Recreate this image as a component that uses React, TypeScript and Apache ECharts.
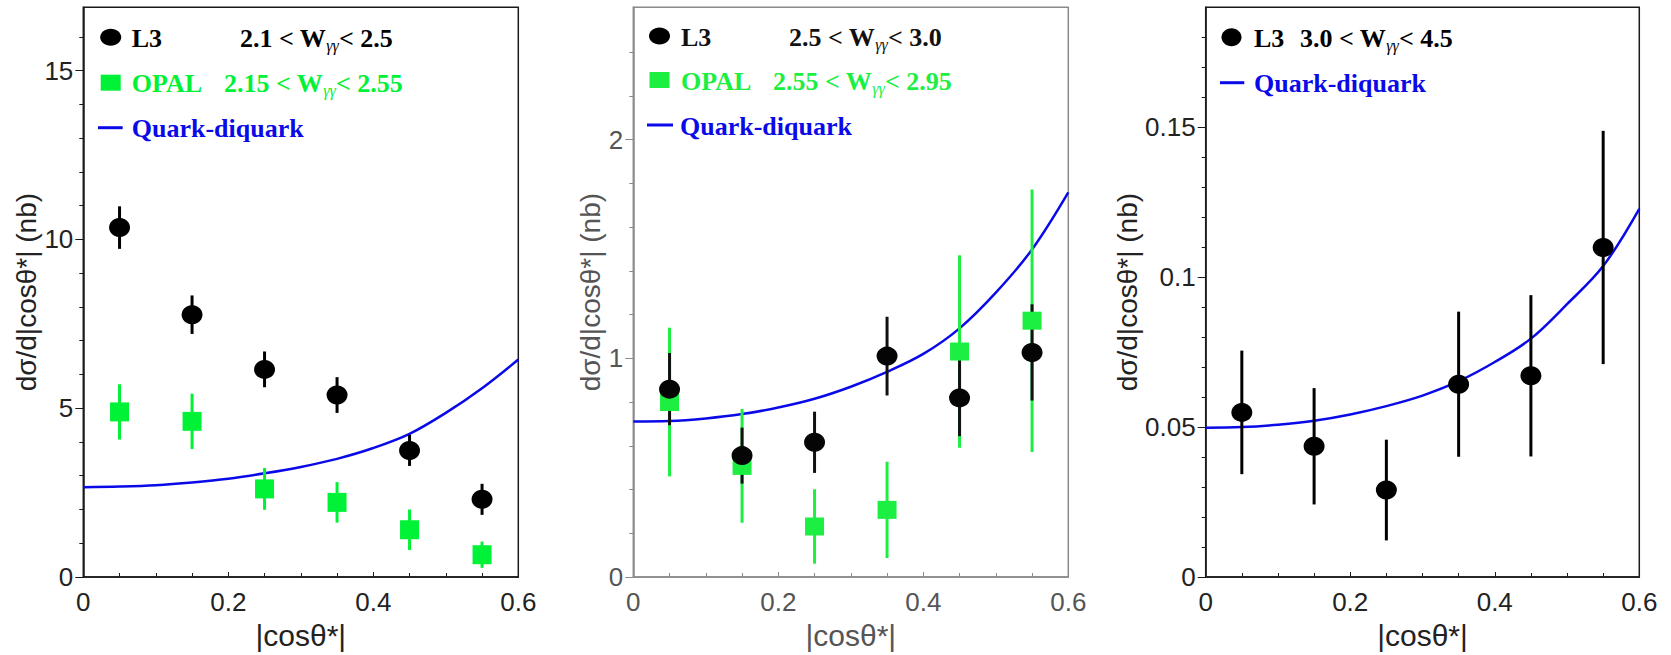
import React, { useEffect, useRef } from 'react';
import * as echarts from 'echarts';

// ---------- data ----------
const xBins = [0.05, 0.15, 0.25, 0.35, 0.45, 0.55];
const curveX = [0, 0.05, 0.1, 0.15, 0.2, 0.25, 0.3, 0.35, 0.4, 0.45, 0.5, 0.55, 0.6];

// Panel 1: 2.1 < W < 2.5
const p1L3 = [10.35, 7.77, 6.15, 5.39, 3.75, 2.30];
const p1L3Err = [0.63, 0.57, 0.53, 0.53, 0.46, 0.46];
const p1Opal = [4.89, 4.61, 2.61, 2.21, 1.40, 0.66];
const p1OpalErr = [0.82, 0.82, 0.62, 0.60, 0.60, 0.39];
const p1Curve = [2.66, 2.68, 2.72, 2.80, 2.91, 3.07, 3.26, 3.50, 3.82, 4.24, 4.86, 5.59, 6.44];

// Panel 2: 2.5 < W < 3.0
const p2L3 = [0.859, 0.555, 0.616, 1.010, 0.819, 1.027];
const p2L3Err = [0.165, 0.128, 0.14, 0.18, 0.175, 0.22];
const p2Opal = [0.80, 0.508, 0.231, 0.307, 1.031, 1.172];
const p2OpalErr = [0.34, 0.26, 0.17, 0.22, 0.44, 0.60];
const p2Curve = [0.711, 0.713, 0.725, 0.745, 0.775, 0.815, 0.870, 0.938, 1.020, 1.137, 1.300, 1.498, 1.759];

// Panel 3: 3.0 < W < 4.5
const p3L3 = [0.0549, 0.0436, 0.0290, 0.0643, 0.0671, 0.1099];
const p3L3Err = [0.0206, 0.0194, 0.0168, 0.0242, 0.0269, 0.0389];
const p3Curve = [0.0498, 0.0500, 0.0508, 0.0521, 0.0542, 0.0570, 0.0605, 0.0653, 0.0717, 0.0795, 0.0910, 0.1037, 0.1228];

// axis ticks
const p1Major = [0, 5, 10, 15];
const p1Minor = [1, 2, 3, 4, 6, 7, 8, 9, 11, 12, 13, 14, 16];
const p2Major = [0, 1, 2];
const p2Minor = [0.2, 0.4, 0.6, 0.8, 1.2, 1.4, 1.6, 1.8, 2.2, 2.4];
const p3Major = [0, 0.05, 0.1, 0.15];
const p3Minor = [0.01, 0.02, 0.03, 0.04, 0.06, 0.07, 0.08, 0.09, 0.11, 0.12, 0.13, 0.14, 0.16, 0.17, 0.18];

const yMax = [16.875, 2.605, 0.19];

const BLACK = '#000000';
const GREEN = '#00f236';
const GREEN2 = '#1cef42';
const BLUE = '#0a0ae8';
const SANS = 'Liberation Sans';
const SERIF = 'Liberation Serif';

const grids = [
  { left: 83.3, top: 7.3, width: 435, height: 573.4 },
  { left: 633.3, top: 7.3, width: 435, height: 573.4 },
  { left: 1205.7, top: 7.3, width: 433.6, height: 573.4 },
];

const labelFmt = (v: number) => String(Math.round(v * 1000) / 1000);

function makeErrSeries(xi: number, yi: number, vals: number[], errs: number[], color: string, z: number) {
  return {
    type: 'custom',
    xAxisIndex: xi,
    yAxisIndex: yi,
    z,
    silent: true,
    data: xBins.map((x, i) => [x, vals[i] - errs[i], vals[i] + errs[i]]),
    encode: { x: 0, y: [1, 2] },
    renderItem: (params: any, api: any) => {
      const p1 = api.coord([api.value(0), api.value(1)]);
      const p2 = api.coord([api.value(0), api.value(2)]);
      return {
        type: 'line',
        shape: { x1: p1[0], y1: p1[1], x2: p2[0], y2: p2[1] },
        style: { stroke: color, lineWidth: 3 },
      };
    },
  };
}

function legendText(x: number, y: number, text: string, color: string, size = 26) {
  return {
    type: 'text',
    x,
    y,
    style: {
      text,
      fill: color,
      fontFamily: SERIF,
      fontWeight: 'bold',
      fontSize: size,
      textAlign: 'left',
      textVerticalAlign: 'middle',
      rich: {
        g: {
          fontFamily: SERIF,
          fontStyle: 'italic',
          fontSize: 16,
          fill: color,
          padding: [14, 0, 0, 0],
        },
      },
    },
  };
}

export default function App() {
  const ref = useRef<HTMLDivElement>(null);
  useEffect(() => {
    if (!ref.current) return;
    const chart = echarts.init(ref.current, undefined, { renderer: 'svg' });

    const frameColors = ['#1a1a1a', '#8a8a8a', '#1a1a1a'];
    const labelColors = ['#222', '#555', '#222'];
    const majors = [p1Major, p2Major, p3Major];
    const minors = [p1Minor, p2Minor, p3Minor];

    const xAxis = grids.map((_, i) => ({
      type: 'value',
      gridIndex: i,
      min: 0,
      max: 0.6,
      interval: 0.2,
      name: '|cosθ*|',
      nameLocation: 'middle',
      nameGap: 43,
      nameTextStyle: { fontFamily: SANS, fontSize: 30, color: labelColors[i] },
      axisLine: { show: true, lineStyle: { color: frameColors[i], width: 1.5 } },
      axisTick: { show: true, inside: true, length: 5, lineStyle: { color: frameColors[i], width: 1 } },
      minorTick: { show: true, splitNumber: 4, length: 4, lineStyle: { color: frameColors[i], width: 1 } },
      axisLabel: {
        show: true,
        margin: 12,
        fontFamily: SANS,
        fontSize: 26,
        color: labelColors[i],
        formatter: (v: number) => labelFmt(v),
      },
      splitLine: { show: false },
      minorSplitLine: { show: false },
    }));

    const nameGaps = [36, 29, 54];
    const yAxis: any[] = [];
    grids.forEach((_, i) => {
      yAxis.push({
        type: 'value',
        gridIndex: i,
        min: 0,
        max: yMax[i],
        position: 'left',
        axisLine: { show: true, lineStyle: { color: frameColors[i], width: 1.5 } },
        axisTick: { show: true, inside: false, length: 4, customValues: minors[i], lineStyle: { color: frameColors[i], width: 1 } },
        axisLabel: { show: false },
        splitLine: { show: false },
      });
      yAxis.push({
        type: 'value',
        gridIndex: i,
        min: 0,
        max: yMax[i],
        position: 'left',
        name: 'dσ/d|cosθ*| (nb)',
        nameLocation: 'middle',
        nameGap: nameGaps[i],
        nameTextStyle: { fontFamily: SANS, fontSize: 28, color: labelColors[i] },
        axisLine: { show: false },
        axisTick: { show: true, inside: false, length: 8, customValues: majors[i], lineStyle: { color: frameColors[i], width: 1 } },
        axisLabel: {
          show: true,
          customValues: majors[i],
          margin: 10,
          fontFamily: SANS,
          fontSize: 26,
          color: labelColors[i],
          formatter: (v: number) => labelFmt(v),
        },
        splitLine: { show: false },
      });
    });

    const curveSeries = (i: number, vals: number[]) => ({
      type: 'line',
      xAxisIndex: i,
      yAxisIndex: 2 * i,
      data: curveX.map((x, k) => [x, vals[k]]),
      smooth: 0.35,
      showSymbol: false,
      symbol: 'none',
      lineStyle: { color: BLUE, width: 2.5 },
      z: 1,
      silent: true,
    });

    const scatter = (i: number, vals: number[], symbol: string, size: number[], color: string, z: number) => ({
      type: 'scatter',
      xAxisIndex: i,
      yAxisIndex: 2 * i,
      data: xBins.map((x, k) => [x, vals[k]]),
      symbol,
      symbolSize: size,
      itemStyle: { color, opacity: 1 },
      z,
      silent: true,
    });

    const series: any[] = [
      curveSeries(0, p1Curve),
      makeErrSeries(0, 0, p1Opal, p1OpalErr, GREEN, 2),
      makeErrSeries(0, 0, p1L3, p1L3Err, BLACK, 3),
      scatter(0, p1Opal, 'rect', [19, 19], GREEN, 4),
      scatter(0, p1L3, 'circle', [21, 19], BLACK, 5),
      curveSeries(1, p2Curve),
      makeErrSeries(1, 2, p2Opal, p2OpalErr, GREEN2, 2),
      makeErrSeries(1, 2, p2L3, p2L3Err, '#111', 3),
      scatter(1, p2Opal, 'rect', [19, 18], GREEN2, 4),
      scatter(1, p2L3, 'circle', [21, 19], '#050505', 5),
      curveSeries(2, p3Curve),
      makeErrSeries(2, 4, p3L3, p3L3Err, BLACK, 3),
      scatter(2, p3L3, 'circle', [21, 19], BLACK, 5),
    ];

    const graphic: any[] = [
      { type: 'ellipse', shape: { cx: 110.7, cy: 37.3, rx: 10.5, ry: 8.5 }, style: { fill: BLACK } },
      legendText(131.7, 38.5, 'L3', BLACK),
      legendText(240, 38.5, '2.1 < W{g|γγ}< 2.5', BLACK),
      { type: 'rect', shape: { x: 100.7, y: 74.7, width: 20, height: 16 }, style: { fill: GREEN } },
      legendText(131.7, 83.5, 'OPAL', GREEN),
      legendText(224, 83.5, '2.15 < W{g|γγ}< 2.55', GREEN),
      { type: 'line', shape: { x1: 98, y1: 127.7, x2: 122.7, y2: 127.7 }, style: { stroke: BLUE, lineWidth: 3 } },
      legendText(131.7, 128.5, 'Quark-diquark', BLUE, 26),
      { type: 'ellipse', shape: { cx: 659.5, cy: 36, rx: 10.5, ry: 8.5 }, style: { fill: BLACK } },
      legendText(681, 37, 'L3', '#111'),
      legendText(789, 37, '2.5 < W{g|γγ}< 3.0', '#111'),
      { type: 'rect', shape: { x: 649.5, y: 72, width: 20, height: 16 }, style: { fill: GREEN2 } },
      legendText(681, 81, 'OPAL', GREEN2),
      legendText(773, 81, '2.55 < W{g|γγ}< 2.95', GREEN2),
      { type: 'line', shape: { x1: 647, y1: 125, x2: 673, y2: 125 }, style: { stroke: BLUE, lineWidth: 3 } },
      legendText(680, 126, 'Quark-diquark', BLUE, 26),
      { type: 'ellipse', shape: { cx: 1231.5, cy: 37.3, rx: 10, ry: 9 }, style: { fill: BLACK } },
      legendText(1254, 38.5, 'L3', BLACK),
      legendText(1300, 38.5, '3.0 < W{g|γγ}< 4.5', BLACK),
      { type: 'line', shape: { x1: 1220, y1: 82.7, x2: 1244.3, y2: 82.7 }, style: { stroke: BLUE, lineWidth: 3 } },
      legendText(1254, 83.5, 'Quark-diquark', BLUE, 26),
    ];

    chart.setOption({
      animation: false,
      backgroundColor: '#ffffff',
      grid: grids.map((g, i) => ({
        ...g,
        show: true,
        borderColor: frameColors[i],
        borderWidth: 1.5,
        backgroundColor: 'transparent',
        containLabel: false,
      })),
      xAxis,
      yAxis,
      series,
      graphic,
    });

    return () => {
      chart.dispose();
    };
  }, []);

  return (
    <div
      ref={ref}
      style={{ position: 'fixed', left: 0, top: 0, width: 1671, height: 655, background: '#fff' }}
    />
  );
}
